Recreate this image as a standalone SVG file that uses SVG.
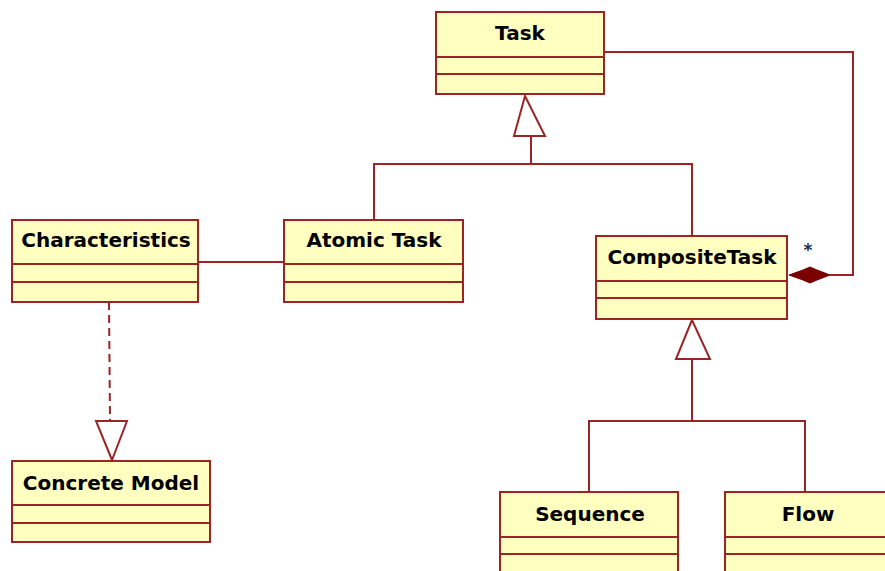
<svg xmlns="http://www.w3.org/2000/svg" width="885" height="571" viewBox="0 0 885 571">
  <style>
    .box rect { fill: #ffffc0; stroke: #9b2525; stroke-width: 2; }
    .box line { stroke: #9b2525; stroke-width: 2; }
    .box text { font-family: "DejaVu Sans", "Liberation Sans", sans-serif; font-weight: bold; font-size: 20px; fill: #000; text-anchor: middle; }
    .edge { fill: none; stroke: #9b2525; stroke-width: 2; }
    .dashed { stroke-dasharray: 8 5; }
    .hollow { fill: #fff; stroke: #9b2525; stroke-width: 2; }
    .filled { fill: #7a0000; stroke: #7a0000; stroke-width: 1; }
    .mult { font-family: "DejaVu Sans", sans-serif; font-weight: bold; font-size: 17px; fill: #1c2c4c; }
  </style>
  <rect width="885" height="571" fill="#fff"/>

  <g id="connectors">
    <!-- Atomic Task / CompositeTask generalize Task -->
    <polyline class="edge" points="374,220 374,164 692,164 692,236"/>
    <line class="edge" x1="531" y1="164" x2="531" y2="136"/>
    <polygon class="hollow" points="525,96 514,136 545,136"/>
    <!-- Sequence / Flow generalize CompositeTask -->
    <polyline class="edge" points="589,492 589,421 805,421 805,492"/>
    <line class="edge" x1="692" y1="421" x2="692" y2="359"/>
    <polygon class="hollow" points="692,320 676,359 710,359"/>
    <!-- Characteristics association Atomic Task -->
    <line class="edge" x1="198" y1="262" x2="284" y2="262"/>
    <!-- Characteristics realizes Concrete Model -->
    <line class="edge dashed" x1="109" y1="302" x2="110" y2="421"/>
    <polygon class="hollow" points="112,460 96,421 127,421"/>
    <!-- CompositeTask aggregates Task -->
    <polyline class="edge" points="604,52 853,52 853,275 830,275"/>
    <polygon class="filled" points="789,275 803,270 810,267 817,270 830,275 817,280 810,283 803,280"/>
    <text class="mult" x="808" y="256" text-anchor="middle">*</text>
  </g>

  <g id="task" class="box">
    <rect x="436" y="12" width="168" height="82"/>
    <line x1="436" y1="57" x2="604" y2="57"/>
    <line x1="436" y1="74" x2="604" y2="74"/>
    <text x="520" y="40">Task</text>
  </g>

  <g id="characteristics" class="box">
    <rect x="12" y="220" width="186" height="82"/>
    <line x1="12" y1="264" x2="198" y2="264"/>
    <line x1="12" y1="282" x2="198" y2="282"/>
    <text x="106" y="247">Characteristics</text>
  </g>

  <g id="atomic-task" class="box">
    <rect x="284" y="220" width="179" height="82"/>
    <line x1="284" y1="264" x2="463" y2="264"/>
    <line x1="284" y1="282" x2="463" y2="282"/>
    <text x="374" y="247">Atomic Task</text>
  </g>

  <g id="composite-task" class="box">
    <rect x="596" y="236" width="191" height="83"/>
    <line x1="596" y1="281" x2="787" y2="281"/>
    <line x1="596" y1="298" x2="787" y2="298"/>
    <text x="692" y="264">CompositeTask</text>
  </g>

  <g id="concrete-model" class="box">
    <rect x="12" y="461" width="198" height="81"/>
    <line x1="12" y1="505" x2="210" y2="505"/>
    <line x1="12" y1="523" x2="210" y2="523"/>
    <text x="111" y="490">Concrete Model</text>
  </g>

  <g id="sequence" class="box">
    <rect x="500" y="492" width="178" height="90"/>
    <line x1="500" y1="537" x2="678" y2="537"/>
    <line x1="500" y1="554" x2="678" y2="554"/>
    <text x="590" y="521">Sequence</text>
  </g>

  <g id="flow" class="box">
    <rect x="725" y="492" width="170" height="90"/>
    <line x1="725" y1="537" x2="895" y2="537"/>
    <line x1="725" y1="554" x2="895" y2="554"/>
    <text x="808" y="521">Flow</text>
  </g>
</svg>
